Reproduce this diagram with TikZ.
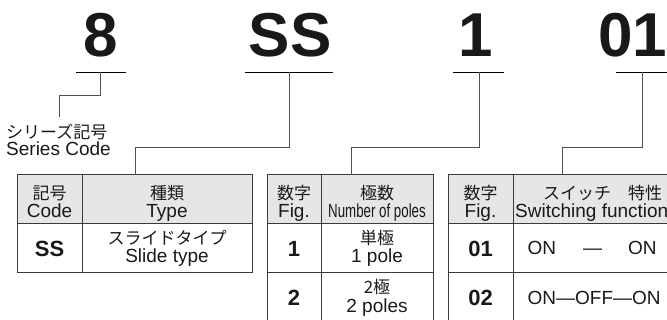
\documentclass[tikz,border=0pt]{standalone}
\usepackage{fontspec}
\setmainfont{Liberation Sans}
\newfontfamily\jp{Noto Sans CJK JP}
\definecolor{tcol}{HTML}{3A3A3A}
\definecolor{ccol}{HTML}{505050}
\definecolor{hcol}{HTML}{E6E6E6}
\tikzset{
  en/.style={inner sep=0pt, anchor=base, text=black!90, font=\fontsize{19}{20}\selectfont},
  jp/.style={inner sep=0pt, anchor=base, text=black!90, font=\jp\fontsize{17}{20}\selectfont},
  bd/.style={inner sep=0pt, anchor=base, text=black!90, font=\bfseries\fontsize{22}{24}\selectfont},
  big/.style={inner sep=0pt, anchor=base, text=black!90, font=\bfseries\fontsize{62}{62}\selectfont},
  cell/.style={draw=tcol, line width=1pt, inner sep=0pt},
  hdr/.style={cell, fill=hcol},
  conn/.style={draw=ccol, line width=0.9pt},
  uline/.style={draw=black, line width=0.9pt},
}
\begin{document}
\begin{tikzpicture}[x=1pt,y=-1pt]
\useasboundingbox (0,0) rectangle (667,320);
\clip (0,0) rectangle (667,320);
% big code characters
\node[big] (c8) at (101,57) {8};
\node[big] (cSS) at (290,57) {SS};
\node[big] (c1) at (476,57) {1};
\node[big, anchor=base east] (c01) at (667.5,57) {01};
% underlines
\coordinate (u8a) at (76,72);   \coordinate (u8b) at (126,72);  \coordinate (u8m) at (100,72);
\coordinate (uSa) at (245,72);  \coordinate (uSb) at (333,72);  \coordinate (uSm) at (289,72);
\coordinate (u1a) at (453,72);  \coordinate (u1b) at (504,72);  \coordinate (u1m) at (479,72);
\coordinate (u0a) at (616,72);  \coordinate (u0b) at (680,72);  \coordinate (u0m) at (642,72);
\draw[uline] (u8a) -- (u8b);
\draw[uline] (uSa) -- (uSb);
\draw[uline] (u1a) -- (u1b);
\draw[uline] (u0a) -- (u0b);
% series code label
\node[jp, anchor=base west] (sj) at (6,138.5) {シリーズ記号};
\node[en, anchor=base west] (se) at (6,156) {Series Code};
\coordinate (s8) at (59,117);
% table 1
\node[hdr, minimum width=65, minimum height=49] (t1h1) at (49.5,199.5) {};
\node[hdr, minimum width=170, minimum height=49] (t1h2) at (167,199.5) {};
\node[cell, minimum width=65, minimum height=49] (t1r1) at (49.5,248.5) {};
\node[cell, minimum width=170, minimum height=49] (t1r2) at (167,248.5) {};
% table 2
\node[hdr, minimum width=54, minimum height=49] (t2h1) at (294,199.5) {};
\node[hdr, minimum width=112, minimum height=49] (t2h2) at (377,199.5) {};
\node[cell, minimum width=54, minimum height=49] (t2a1) at (294,248.5) {};
\node[cell, minimum width=112, minimum height=49] (t2a2) at (377,248.5) {};
\node[cell, minimum width=54, minimum height=49] (t2b1) at (294,297.5) {};
\node[cell, minimum width=112, minimum height=49] (t2b2) at (377,297.5) {};
% table 3
\node[hdr, minimum width=65, minimum height=49] (t3h1) at (480.5,199.5) {};
\node[hdr, minimum width=180, minimum height=49] (t3h2) at (603,199.5) {};
\node[cell, minimum width=65, minimum height=49] (t3a1) at (480.5,248.5) {};
\node[cell, minimum width=180, minimum height=49] (t3a2) at (603,248.5) {};
\node[cell, minimum width=65, minimum height=49] (t3b1) at (480.5,297.5) {};
\node[cell, minimum width=180, minimum height=49] (t3b2) at (603,297.5) {};
% connectors
\coordinate (t1top) at (135,175);
\coordinate (t2top) at (351,175);
\coordinate (t3top) at (562,175);
\draw[conn] (u8m) -- ++(0,23) -| (s8);
\draw[conn] (uSm) -- ++(0,75) -| (t1top);
\draw[conn] (u1m) -- ++(0,75) -| (t2top);
\draw[conn] (u0m) -- ++(0,75) -| (t3top);
% table 1 texts
\node[jp] (t1h1j) at (49.5,200) {記号};
\node[en] (t1h1e) at (49.5,218) {Code};
\node[jp] (t1h2j) at (167,200) {種類};
\node[en] (t1h2e) at (167,218) {Type};
\node[bd] (t1r1t) at (49.5,257) {SS};
\node[jp] (t1r2j) at (167,244.5) {スライドタイプ};
\node[en] (t1r2e) at (167,262.5) {Slide type};
% table 2 texts
\node[jp] (t2h1j) at (294,200) {数字};
\node[en] (t2h1e) at (294,218) {Fig.};
\node[jp] (t2h2j) at (377,200) {極数};
\node[en] (t2h2e) at (377,218) {\scalebox{0.7}[1]{Number of poles}};
\node[bd] (t2a1t) at (294,256.5) {1};
\node[jp] (t2a2j) at (377,244.5) {単極};
\node[en] (t2a2e) at (377,262.5) {1 pole};
\node[bd] (t2b1t) at (294,305.5) {2};
\node[jp] (t2b2j) at (377,294) {2極};
\node[en] (t2b2e) at (377,312.5) {2 poles};
% table 3 texts
\node[jp] (t3h1j) at (480.5,200) {数字};
\node[en] (t3h1e) at (480.5,218) {Fig.};
\node[jp, anchor=base west] (t3h2j) at (543,200) {スイッチ　特性};
\node[en, anchor=base west] (t3h2e) at (515,218) {Switching function};
\node[bd] (t3a1t) at (480.5,256.5) {01};
\node[en, anchor=base west] (t3a2t) at (527.5,254.5) {ON\hspace{27pt}—\hspace{26pt}ON};
\node[bd] (t3b1t) at (480.5,305.5) {02};
\node[en, anchor=base west] (t3b2t) at (527.5,304.5) {ON—OFF—ON};
\end{tikzpicture}
\end{document}
